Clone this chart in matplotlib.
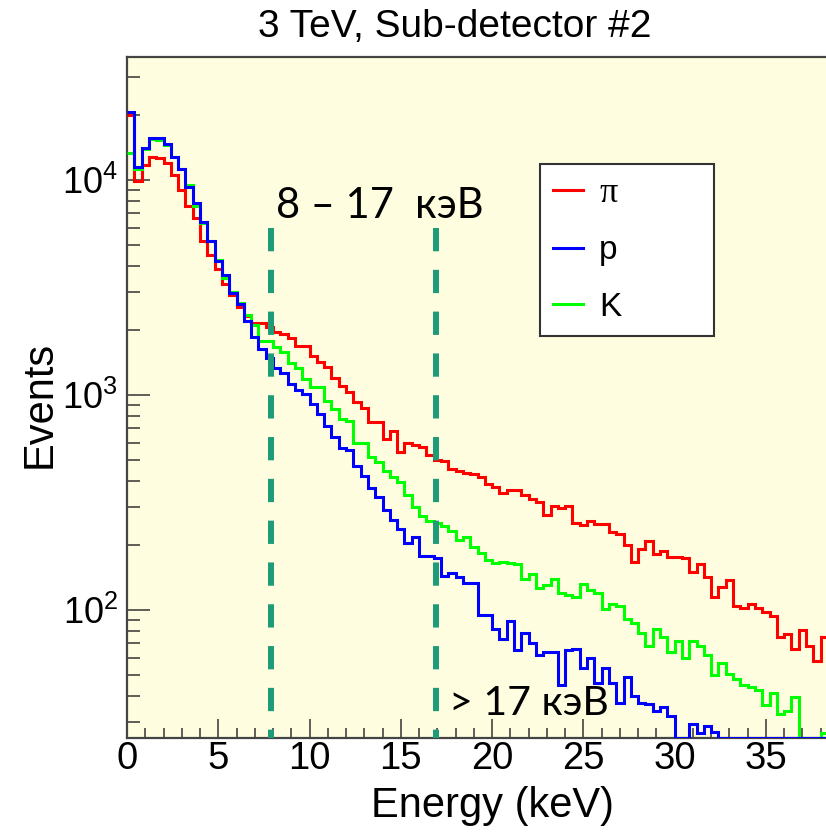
import numpy as np
import matplotlib
matplotlib.use("Agg")
import matplotlib.pyplot as plt
from matplotlib.lines import Line2D
from matplotlib.ticker import LogLocator, MultipleLocator, NullFormatter

plt.rcParams['font.family'] = ['Liberation Sans', 'DejaVu Sans']
plt.rcParams['mathtext.fontset'] = 'custom'
plt.rcParams['mathtext.rm'] = 'Liberation Sans'
plt.rcParams['mathtext.it'] = 'Liberation Sans:italic'

# ---------------- data ----------------
bin_width = 0.4  # keV
pi_counts = [20000, 9900, 11700, 12800, 12700, 12000, 10600, 9000, 7570, 6680,
             5200, 4480, 3845, 3300, 2920, 2575, 2330, 2170, 2170, 2065,
             1970, 1920, 1835, 1695, 1695, 1520, 1420, 1355, 1203, 1100,
             1035, 930, 867, 751, 751, 622, 682, 545, 596, 585,
             571, 526, 499, 493, 451, 443, 435, 429, 414, 386,
             372, 349, 361, 361, 343, 327, 319, 277, 305, 297,
             305, 253, 248, 260, 250, 250, 231, 226, 200, 168,
             192, 210, 182, 188, 177, 177, 174, 151, 164, 143,
             115, 128, 138, 104, 102, 107, 102, 98, 94, 75,
             77, 66, 81, 68, 58, 75]
p_counts = [20800, 11500, 14100, 15700, 15700, 14650, 12830, 11210, 9310, 7800,
            6400, 5220, 4200, 3615, 2980, 2650, 2210, 1862, 1637, 1482,
            1331, 1262, 1122, 1055, 1008, 905, 813, 720, 640, 569,
            555, 469, 422, 368, 337, 292, 262, 237, 206, 219,
            178, 178, 174, 144, 149, 142, 134, 134, 95, 95,
            82, 73, 89, 65, 78, 70, 62, 64, 64, 45,
            65, 66, 54, 60, 46, 54, 46, 37, 49, 40,
            37, 36.5, 34, 35.5, 32, 0, 0, 29.5, 26.7, 29,
            27, 0, 0, 0, 0, 0, 0, 0, 0, 0,
            0, 0, 0, 0, 0, 0]
k_counts = [13300, 11250, 14000, 15500, 15400, 14500, 12800, 11200, 9480, 7570,
            6300, 5200, 4245, 3490, 3020, 2680, 2355, 2118, 1790, 1790,
            1678, 1580, 1413, 1331, 1184, 1087, 1087, 940, 861, 771,
            759, 596, 596, 516, 486, 445, 417, 392, 343, 302,
            274, 260, 253, 246, 234, 212, 219, 196, 185, 170,
            166, 168, 166, 164, 139, 147, 126, 131, 139, 120,
            117, 115, 132, 124, 120, 101, 107, 104, 91, 87,
            78, 68, 82, 75, 64, 72, 60, 72, 68, 62,
            50, 56.5, 50.4, 48, 45, 44, 42.5, 36, 41, 33,
            34, 39.5, 0, 0, 0, 26.7]

series_labels = ["π", "p", "K"]
series_colors = ["#FF0000", "#0000FF", "#00FF00"]
band_edges = [7.9, 16.9]   # keV, dashed markers
title = "3 TeV, Sub-detector #2"
xlabel = "Energy (keV)"
ylabel = "Events"
band_text = "8 – 17  кэВ"
high_text = "> 17 кэВ"

x_range = (0, 38.29)
y_range = (25.4, 37350)

# ---------------- figure ----------------
W, H = 826, 833
fig = plt.figure(figsize=(W / 100, H / 100), dpi=100)
L, R, T, B = 127, 826, 57, 738
ax = fig.add_axes([L / W, 1 - B / H, (R - L) / W, (B - T) / H])
ax.set_facecolor("#FFFDDF")

edges = np.arange(len(pi_counts) + 1) * bin_width
ylo = y_range[0]
draw_order = [(pi_counts, 0), (k_counts, 2), (p_counts, 1)]
for counts, i in draw_order:
    vals = np.maximum(np.asarray(counts, dtype=float), ylo)
    ax.stairs(vals, edges, baseline=None, color=series_colors[i], lw=2.2, zorder=3)

ax.set_yscale("log")
ax.set_xlim(*x_range)
ax.set_ylim(*y_range)

# dashed band markers (drawn from the top downward)
for xe in band_edges:
    ax.plot([xe, xe], [0.749, 0.0], transform=ax.get_xaxis_transform(),
            color="#1E9B78", lw=4.3, linestyle=(0, (3.9, 3.1)),
            dash_capstyle="butt", zorder=4)

# text annotations
ax.text(0.213, 0.7636, band_text, transform=ax.transAxes, fontsize=30,
        family=["Lato", "Open Sans", "DejaVu Sans"], va="baseline", ha="left", zorder=5)
ax.text(0.4607, 0.0338, high_text, transform=ax.transAxes, fontsize=29.5,
        family=["Lato", "Open Sans", "DejaVu Sans"], va="baseline", ha="left", zorder=5)

# axes styling
for s in ["top", "left", "bottom"]:
    ax.spines[s].set_color("#444444")
    ax.spines[s].set_linewidth(1.6)
ax.spines["right"].set_visible(False)

ax.xaxis.set_major_locator(MultipleLocator(5))
ax.xaxis.set_minor_locator(MultipleLocator(1))
ax.tick_params(axis="x", which="major", direction="in", length=13.7, width=1.1,
               color="#333333", labelsize=27.5, pad=2, top=False)
ax.tick_params(axis="x", which="minor", direction="in", length=7.2, width=1.1,
               color="#333333", top=False)
ax.yaxis.set_major_locator(LogLocator(base=10, numticks=10))
ax.yaxis.set_minor_locator(LogLocator(base=10, subs=np.arange(2, 10), numticks=20))
ax.yaxis.set_minor_formatter(NullFormatter())
ax.tick_params(axis="y", which="major", direction="in", length=16.5, width=1.1,
               color="#333333", labelsize=26, pad=6.5, right=False)
ax.tick_params(axis="y", which="minor", direction="in", length=9.4, width=1.1,
               color="#333333", right=False)

ax.set_xlabel(xlabel, fontsize=30)
ax.xaxis.set_label_coords(20 / x_range[1], -0.07)
ax.set_ylabel(ylabel, fontsize=30)
ax.yaxis.set_label_coords(-0.097, 0.49)

fig.text(455 / W, 1 - 27 / H, title, fontsize=28, ha="center", va="center")

# legend
handles = [Line2D([], [], color=c, lw=2.2) for c in series_colors]
leg = ax.legend(handles, series_labels, loc="upper left",
                bbox_to_anchor=(540 / W, 1 - 332 / H, 174 / W, 168 / H),
                bbox_transform=fig.transFigure, mode="expand", borderaxespad=0,
                fontsize=24, handlelength=0.9, handletextpad=0.5,
                labelspacing=0.77, borderpad=0.38, fancybox=False,
                framealpha=1, facecolor="white", edgecolor="#333333")
leg.get_frame().set_linewidth(1.5)
leg.get_texts()[0].set_fontfamily(["Liberation Serif", "DejaVu Serif"])
leg.get_texts()[0].set_fontsize(26)
leg.set_zorder(6)

fig.savefig("out.png", dpi=100)
